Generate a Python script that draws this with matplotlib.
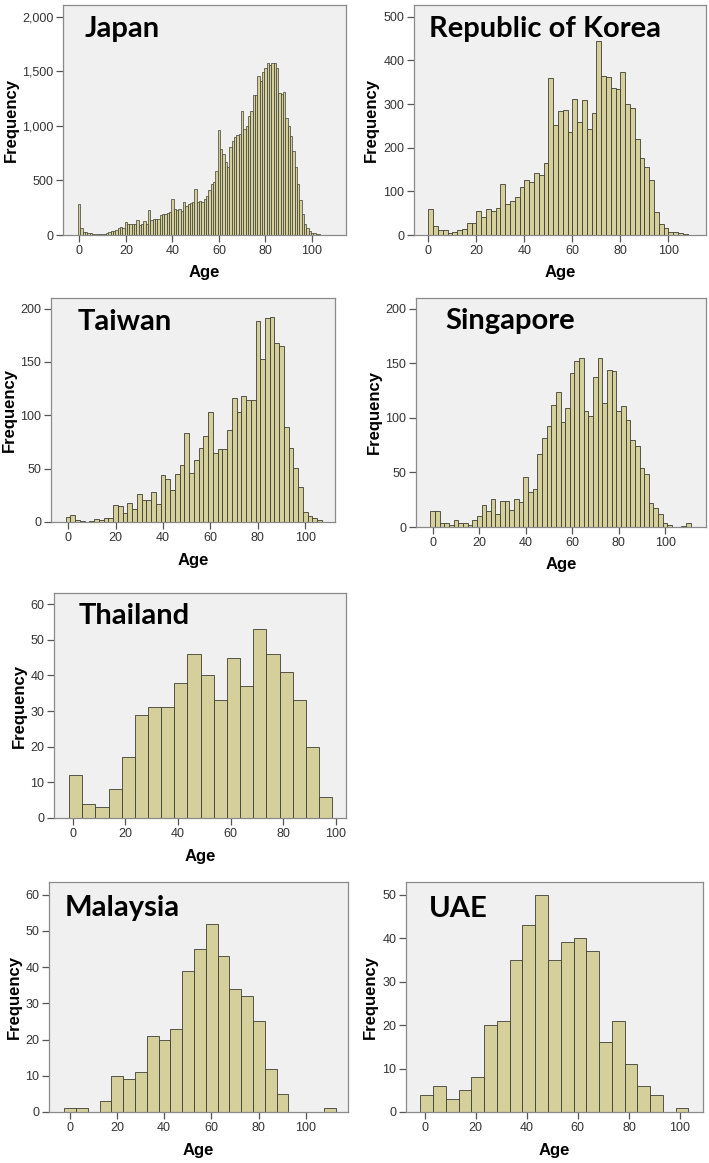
import numpy as np
import matplotlib.pyplot as plt
from matplotlib.ticker import StrMethodFormatter

# Age distributions by country (frequency per age bin)

# Japan: 1-year bins, ages 0..108
japan_freq = [288, 60, 30, 25, 20, 15, 12, 10, 10, 10,
              10, 12, 15, 25, 35, 40, 45, 60, 75, 65,
              115, 105, 100, 100, 105, 140, 95, 100, 130, 105,
              233, 135, 145, 148, 150, 185, 188, 190, 200, 215,
              330, 240, 230, 240, 220, 300, 265, 280, 295, 305,
              425, 300, 310, 305, 330, 360, 410, 470, 490, 585,
              960, 790, 740, 665, 620, 810, 860, 895, 915, 925,
              1135, 975, 1000, 1090, 1140, 1280, 1280, 1460, 1410, 1495,
              1530, 1575, 1560, 1580, 1580, 1530, 1300, 1295, 1310, 1075,
              1000, 910, 765, 620, 470, 325, 195, 105, 60, 36,
              21, 15, 9, 6, 3, 3, 2, 1, 1]

# Republic of Korea: 2-year bins starting at 0
korea_freq = [60, 21, 11, 11, 4, 8, 11, 14, 27, 28,
              56, 42, 59, 56, 63, 116, 70, 79, 86, 111,
              126, 122, 141, 137, 164, 360, 251, 285, 286, 235,
              312, 259, 309, 244, 279, 445, 364, 363, 336, 334,
              374, 300, 290, 221, 176, 156, 126, 53, 25, 15,
              6, 6, 4, 2]

# Taiwan: 2-year bins centred on even ages
taiwan_freq = [5, 7, 2, 1, 0, 1, 3, 2, 4, 4,
               16, 15, 8, 18, 12, 26, 21, 21, 28, 17,
               44, 40, 30, 45, 53, 83, 46, 58, 69, 81,
               103, 65, 68, 68, 86, 116, 103, 118, 114, 114,
               188, 153, 191, 192, 168, 165, 89, 69, 51, 33,
               9, 6, 4, 2]

# Singapore: 2-year bins centred on even ages
singapore_freq = [15, 15, 4, 4, 2, 6, 4, 4, 2, 6,
                  10, 20, 15, 26, 12, 24, 24, 16, 26, 23,
                  46, 32, 35, 67, 82, 93, 112, 124, 96, 109,
                  141, 152, 155, 106, 102, 138, 155, 114, 144, 143,
                  106, 111, 98, 80, 74, 54, 49, 22, 17, 12,
                  4, 2, 0, 0, 1, 4]

# Thailand, Malaysia, UAE: 5-year bins
thailand_freq = [12, 4, 3, 8, 17, 29, 31, 31, 38, 46,
                 40, 33, 45, 37, 53, 46, 41, 33, 20, 6]
malaysia_freq = [1, 1, 0, 3, 10, 9, 11, 21, 20, 23, 39, 45,
                 52, 43, 34, 32, 25, 12, 5, 0, 0, 0, 1]
uae_freq = [4, 6, 3, 5, 8, 20, 21, 35, 43, 50, 35,
            39, 40, 37, 16, 21, 11, 6, 4, 0, 1]

W, H = 709, 1163
BAR = '#D5D09B'
EDGE = '#3d3d33'
BG = '#F0F0F0'

plt.rcParams['font.family'] = ['Liberation Sans', 'DejaVu Sans']

fig = plt.figure(figsize=(W / 100, H / 100), dpi=100)
fig.patch.set_facecolor('white')


def panel(title, freq, first, width, rect, xlim, ymax, ystep, title_xy, ylab_dx,
          lw=0.6, comma=False):
    # rect in pixels: left, top, right, bottom
    left, top, right, bottom = rect
    ax = fig.add_axes([left / W, 1 - bottom / H, (right - left) / W, (bottom - top) / H])
    ax.set_facecolor(BG)
    centers = first + width * np.arange(len(freq))
    ax.bar(centers, freq, width=width, color=BAR, edgecolor=EDGE, linewidth=lw)

    ax.set_xlim(xlim)
    ax.set_ylim(0, ymax)
    ax.set_xticks([0, 20, 40, 60, 80, 100])
    ax.set_yticks(np.arange(0, ymax, ystep))
    if comma:
        ax.yaxis.set_major_formatter(StrMethodFormatter('{x:,.0f}'))

    for s in ax.spines.values():
        s.set_color('#8a8a8a')
        s.set_linewidth(0.9)
    ax.tick_params(direction='out', length=5, width=0.9, color='#555555',
                   labelsize=9, labelcolor='#333333', pad=2, top=False, right=False)

    w_px, h_px = right - left, bottom - top
    ax.set_xlabel('Age', fontsize=12, fontweight='bold', va='center')
    ax.xaxis.set_label_coords(0.5, -38 / h_px)
    ax.set_ylabel('Frequency', fontsize=12, fontweight='bold', va='center')
    ax.yaxis.set_label_coords(-ylab_dx / w_px, 0.5)

    # big country name inside the plot
    ax.annotate(title, xy=(0, 1), xycoords='axes fraction',
                xytext=(title_xy[0], -title_xy[1]), textcoords='offset pixels',
                ha='left', va='baseline', fontsize=21, fontweight='bold', family='Lato')
    return ax


panel('Japan', japan_freq, 0, 1, (63, 5, 346, 235), (-7, 114.6), 2107, 500, (22, 32), 52,
      lw=0.5, comma=True)
panel('Republic of Korea', korea_freq, 1, 2, (414, 5, 706, 235), (-6, 115.7), 527, 100, (15, 32), 43)
panel('Taiwan', taiwan_freq, 0, 2, (51, 298, 335, 522), (-7.2, 112.5), 210, 50, (27, 32), 42)
panel('Singapore', singapore_freq, 0, 2, (416, 298, 706, 527), (-7.2, 117.6), 210, 50, (29, 31), 42)
panel('Thailand', thailand_freq, 1.1, 5, (54, 593, 346, 818), (-7.1, 103.8), 63.1, 10, (25, 31), 35)
panel('Malaysia', malaysia_freq, 0.15, 5, (49, 882, 348, 1112), (-8.8, 117.9), 63.5, 10, (16, 34), 35)
panel('UAE', uae_freq, 0.8, 5, (406, 882, 703, 1112), (-7.3, 109), 52.9, 10, (23, 35), 36)

plt.savefig('out.png', dpi=100)
